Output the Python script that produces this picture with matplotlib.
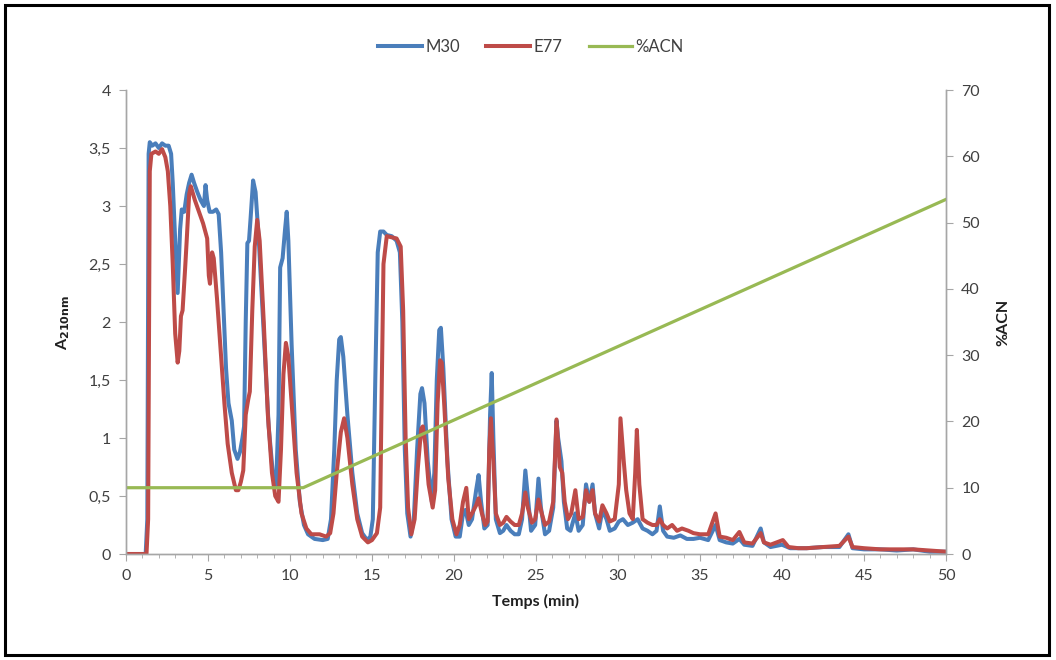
import matplotlib
matplotlib.use("Agg")
import matplotlib.pyplot as plt
from matplotlib.patches import Rectangle
from matplotlib.ticker import MultipleLocator, FuncFormatter

plt.rcParams['font.family'] = ['Lato', 'DejaVu Sans']

# Chromatogram M30 (time in min, absorbance at 210 nm)
m30_t = [0.0, 1.2, 1.3, 1.38, 1.45, 1.6, 1.8, 2.0, 2.2, 2.4, 2.6, 2.75, 2.85, 3.0, 3.15,
         3.3, 3.4, 3.55, 3.7, 3.85, 4.0, 4.15, 4.35, 4.55, 4.75, 4.85, 4.95, 5.1, 5.3, 5.5,
         5.65, 5.8, 5.95, 6.1, 6.25, 6.45, 6.6, 6.8, 6.95, 7.1, 7.2, 7.3, 7.4, 7.5, 7.6,
         7.75, 7.9, 8.1, 8.4, 8.7, 8.95, 9.15, 9.3, 9.4, 9.55, 9.7, 9.8, 9.9, 10.1, 10.35,
         10.6, 10.85, 11.1, 11.5, 12.0, 12.3, 12.5, 12.7, 12.85, 13.0, 13.1, 13.25, 13.5, 13.8, 14.1,
         14.4, 14.7, 14.9, 15.05, 15.2, 15.35, 15.5, 15.7, 15.9, 16.2, 16.5, 16.7, 16.85, 17.0, 17.15,
         17.35, 17.55, 17.75, 17.95, 18.05, 18.2, 18.4, 18.65, 18.8, 18.95, 19.1, 19.2, 19.35, 19.6, 19.85,
         20.1, 20.35, 20.55, 20.7, 20.9, 21.1, 21.35, 21.5, 21.65, 21.85, 22.05, 22.2, 22.3, 22.4, 22.55,
         22.8, 23.0, 23.2, 23.45, 23.7, 23.95, 24.15, 24.35, 24.5, 24.7, 24.95, 25.15, 25.3, 25.55, 25.8,
         26.05, 26.25, 26.35, 26.55, 26.7, 26.9, 27.1, 27.4, 27.6, 27.85, 28.05, 28.25, 28.45, 28.6, 28.85,
         29.05, 29.3, 29.5, 29.8, 30.05, 30.3, 30.6, 30.9, 31.2, 31.5, 31.8, 32.1, 32.35, 32.55, 32.75,
         33.0, 33.4, 33.8, 34.2, 34.6, 35.0, 35.5, 35.95, 36.2, 36.6, 37.0, 37.4, 37.7, 38.2, 38.7,
         38.9, 39.3, 40.0, 40.5, 41.5, 42.5, 43.5, 44.05, 44.3, 45.0, 46.0, 47.0, 48.0, 49.0, 50.0]
m30_a = [0.0, 0.0, 0.3, 3.45, 3.55, 3.52, 3.54, 3.5, 3.54, 3.52, 3.52, 3.45, 3.2, 2.7, 2.25,
         2.8, 2.97, 2.95, 3.1, 3.2, 3.27, 3.2, 3.12, 3.05, 3.0, 3.18, 3.05, 2.95, 2.95, 2.97,
         2.93, 2.6, 2.1, 1.6, 1.3, 1.15, 0.9, 0.82, 0.88, 1.0, 1.1, 2.0, 2.68, 2.7, 2.9,
         3.22, 3.12, 2.7, 1.9, 1.1, 0.7, 0.58, 1.2, 2.47, 2.55, 2.8, 2.95, 2.7, 1.8, 0.9,
         0.45, 0.25, 0.17, 0.13, 0.12, 0.13, 0.3, 0.9, 1.5, 1.85, 1.87, 1.7, 1.2, 0.7, 0.35,
         0.18, 0.12, 0.15, 0.3, 1.5, 2.6, 2.78, 2.78, 2.75, 2.74, 2.7, 2.6, 2.0, 0.9, 0.35,
         0.15, 0.3, 0.9, 1.38, 1.43, 1.3, 0.8, 0.45, 0.7, 1.5, 1.93, 1.95, 1.6, 0.8, 0.3,
         0.15, 0.15, 0.35, 0.38, 0.25, 0.3, 0.55, 0.68, 0.45, 0.22, 0.25, 1.2, 1.56, 1.0, 0.3,
         0.18, 0.2, 0.25, 0.2, 0.17, 0.17, 0.3, 0.72, 0.5, 0.2, 0.25, 0.65, 0.4, 0.17, 0.2,
         0.4, 1.15, 1.0, 0.8, 0.45, 0.22, 0.2, 0.35, 0.2, 0.25, 0.6, 0.45, 0.6, 0.35, 0.22,
         0.38, 0.3, 0.2, 0.22, 0.28, 0.3, 0.25, 0.27, 0.3, 0.22, 0.2, 0.17, 0.2, 0.41, 0.2,
         0.15, 0.14, 0.16, 0.13, 0.13, 0.14, 0.12, 0.25, 0.12, 0.1, 0.09, 0.13, 0.08, 0.07, 0.22,
         0.1, 0.06, 0.08, 0.05, 0.05, 0.06, 0.06, 0.17, 0.05, 0.04, 0.04, 0.03, 0.04, 0.02, 0.02]

# Chromatogram E77
e77_t = [0.0, 1.25, 1.35, 1.45, 1.55, 1.8, 2.0, 2.2, 2.4, 2.55, 2.7, 2.85, 3.0, 3.15, 3.25,
         3.35, 3.45, 3.6, 3.7, 3.85, 3.95, 4.2, 4.45, 4.7, 4.95, 5.05, 5.12, 5.25, 5.35, 5.55,
         5.75, 6.0, 6.2, 6.45, 6.7, 6.85, 7.0, 7.15, 7.3, 7.45, 7.55, 7.7, 7.85, 8.0, 8.15,
         8.4, 8.65, 8.9, 9.1, 9.3, 9.45, 9.6, 9.75, 9.9, 10.15, 10.4, 10.7, 11.0, 11.3, 11.8,
         12.2, 12.45, 12.65, 12.85, 13.1, 13.3, 13.5, 13.8, 14.1, 14.4, 14.75, 15.0, 15.3, 15.5, 15.6,
         15.7, 15.9, 16.2, 16.5, 16.75, 16.9, 17.05, 17.2, 17.4, 17.6, 17.8, 18.0, 18.1, 18.25, 18.45,
         18.7, 18.85, 19.0, 19.15, 19.25, 19.4, 19.65, 19.9, 20.15, 20.35, 20.55, 20.75, 20.9, 21.1, 21.35,
         21.5, 21.7, 21.9, 22.05, 22.15, 22.25, 22.4, 22.55, 22.8, 23.0, 23.2, 23.45, 23.7, 23.95, 24.15,
         24.35, 24.5, 24.75, 24.95, 25.15, 25.35, 25.55, 25.8, 26.05, 26.25, 26.45, 26.6, 26.75, 26.95, 27.15,
         27.4, 27.6, 27.85, 28.05, 28.25, 28.45, 28.6, 28.85, 29.05, 29.3, 29.5, 29.8, 30.05, 30.15, 30.35,
         30.5, 30.7, 30.9, 31.05, 31.15, 31.3, 31.5, 31.8, 32.1, 32.35, 32.55, 32.75, 33.0, 33.3, 33.6,
         33.9, 34.3, 34.6, 35.0, 35.5, 35.95, 36.2, 36.6, 37.0, 37.4, 37.7, 38.2, 38.7, 38.9, 39.3,
         40.05, 40.4, 41.0, 41.5, 42.5, 43.5, 44.05, 44.3, 45.0, 46.0, 47.0, 48.0, 49.0, 50.0]
e77_a = [0.0, 0.0, 0.3, 3.3, 3.45, 3.47, 3.45, 3.49, 3.42, 3.3, 3.0, 2.5, 1.9, 1.65, 1.75,
         2.05, 2.1, 2.45, 2.7, 3.1, 3.17, 3.05, 2.95, 2.85, 2.72, 2.4, 2.33, 2.6, 2.55, 2.2,
         1.8, 1.3, 0.95, 0.7, 0.55, 0.55, 0.62, 0.72, 1.2, 1.33, 1.4, 2.1, 2.65, 2.88, 2.7,
         2.0, 1.2, 0.7, 0.5, 0.45, 0.9, 1.55, 1.82, 1.7, 1.2, 0.7, 0.35, 0.22, 0.17, 0.17,
         0.15, 0.18, 0.35, 0.7, 1.05, 1.17, 1.0, 0.6, 0.3, 0.15, 0.1, 0.12, 0.18, 0.4, 1.5,
         2.5, 2.74, 2.73, 2.72, 2.65, 2.1, 1.0, 0.4, 0.17, 0.3, 0.75, 1.08, 1.1, 0.95, 0.6,
         0.4, 0.55, 1.3, 1.67, 1.65, 1.3, 0.65, 0.3, 0.17, 0.25, 0.45, 0.57, 0.3, 0.35, 0.42,
         0.48, 0.35, 0.25, 0.28, 0.9, 1.17, 0.8, 0.35, 0.25, 0.27, 0.32, 0.28, 0.25, 0.25, 0.35,
         0.53, 0.4, 0.27, 0.3, 0.47, 0.35, 0.25, 0.28, 0.45, 1.16, 0.75, 0.7, 0.45, 0.3, 0.35,
         0.55, 0.3, 0.32, 0.55, 0.45, 0.55, 0.35, 0.28, 0.42, 0.35, 0.28, 0.3, 0.6, 1.17, 0.8,
         0.55, 0.35, 0.3, 0.7, 1.07, 0.6, 0.3, 0.27, 0.25, 0.25, 0.3, 0.25, 0.22, 0.25, 0.2,
         0.22, 0.2, 0.18, 0.17, 0.17, 0.35, 0.15, 0.14, 0.12, 0.19, 0.1, 0.09, 0.18, 0.1, 0.08,
         0.12, 0.06, 0.05, 0.05, 0.06, 0.07, 0.15, 0.06, 0.05, 0.04, 0.04, 0.04, 0.03, 0.02]

# Acetonitrile gradient (%)
acn_t = [0.0, 10.8, 50.0]
acn_pct = [10.0, 10.0, 53.5]

x_ticks = list(range(0, 51, 5))
y_left_ticks = [0, 0.5, 1, 1.5, 2, 2.5, 3, 3.5, 4]
y_right_ticks = list(range(0, 71, 10))

BLUE = '#4A7EBB'
RED = '#BE4B48'
GREEN = '#98B954'
SPINE = '#A6A6A6'
TXT = '#404040'

fig = plt.figure(figsize=(10.56, 6.6), dpi=100)
ax = fig.add_axes([126 / 1056, 1 - 554 / 660, 820 / 1056, 464 / 660])
ax2 = ax.twinx()

l1, = ax.plot(m30_t, m30_a, color=BLUE, lw=2.9, solid_joinstyle='round', label='M30')
l2, = ax.plot(e77_t, e77_a, color=RED, lw=2.9, solid_joinstyle='round', label='E77')
l3, = ax2.plot(acn_t, acn_pct, color=GREEN, lw=2.3, label='%ACN')

ax.set_xlim(0, 50)
ax.set_ylim(0, 4)
ax2.set_ylim(0, 70)
ax.set_xticks(x_ticks)
ax.xaxis.set_minor_locator(MultipleLocator(1))
ax.set_yticks(y_left_ticks)
ax2.set_yticks(y_right_ticks)

comma = FuncFormatter(lambda v, p: ('%g' % v).replace('.', ','))
ax.yaxis.set_major_formatter(comma)

for a in (ax, ax2):
    a.spines['top'].set_visible(False)
    for s in ('left', 'right', 'bottom'):
        a.spines[s].set_color(SPINE)
        a.spines[s].set_linewidth(1.0)
    a.tick_params(axis='both', which='major', length=5, color=SPINE,
                  labelsize=11.5, labelcolor=TXT, pad=6)
    a.tick_params(axis='x', which='minor', length=3, color=SPINE)

ax.set_xlabel('Temps (min)', fontsize=11.5, fontweight='bold', color='#202020', labelpad=8)
ax.set_ylabel(r'A$_{\mathbf{210nm}}$', fontsize=11.5, fontweight='bold', color='#202020', labelpad=12)
ax2.set_ylabel('%ACN', fontsize=11.5, fontweight='bold', color='#202020', labelpad=12)

fig.legend(handles=[l1, l2, l3], loc='center', bbox_to_anchor=(531 / 1056, 1 - 47 / 660),
           ncol=3, frameon=False, fontsize=12, handlelength=2.6, handletextpad=0.2,
           columnspacing=1.6, labelcolor=TXT)

fig.patches.append(Rectangle((5 / 1056, 5 / 660), 1044 / 1056, 650 / 660,
                             transform=fig.transFigure, fill=False,
                             edgecolor='black', linewidth=2.2))

fig.savefig('out.png', dpi=100)
